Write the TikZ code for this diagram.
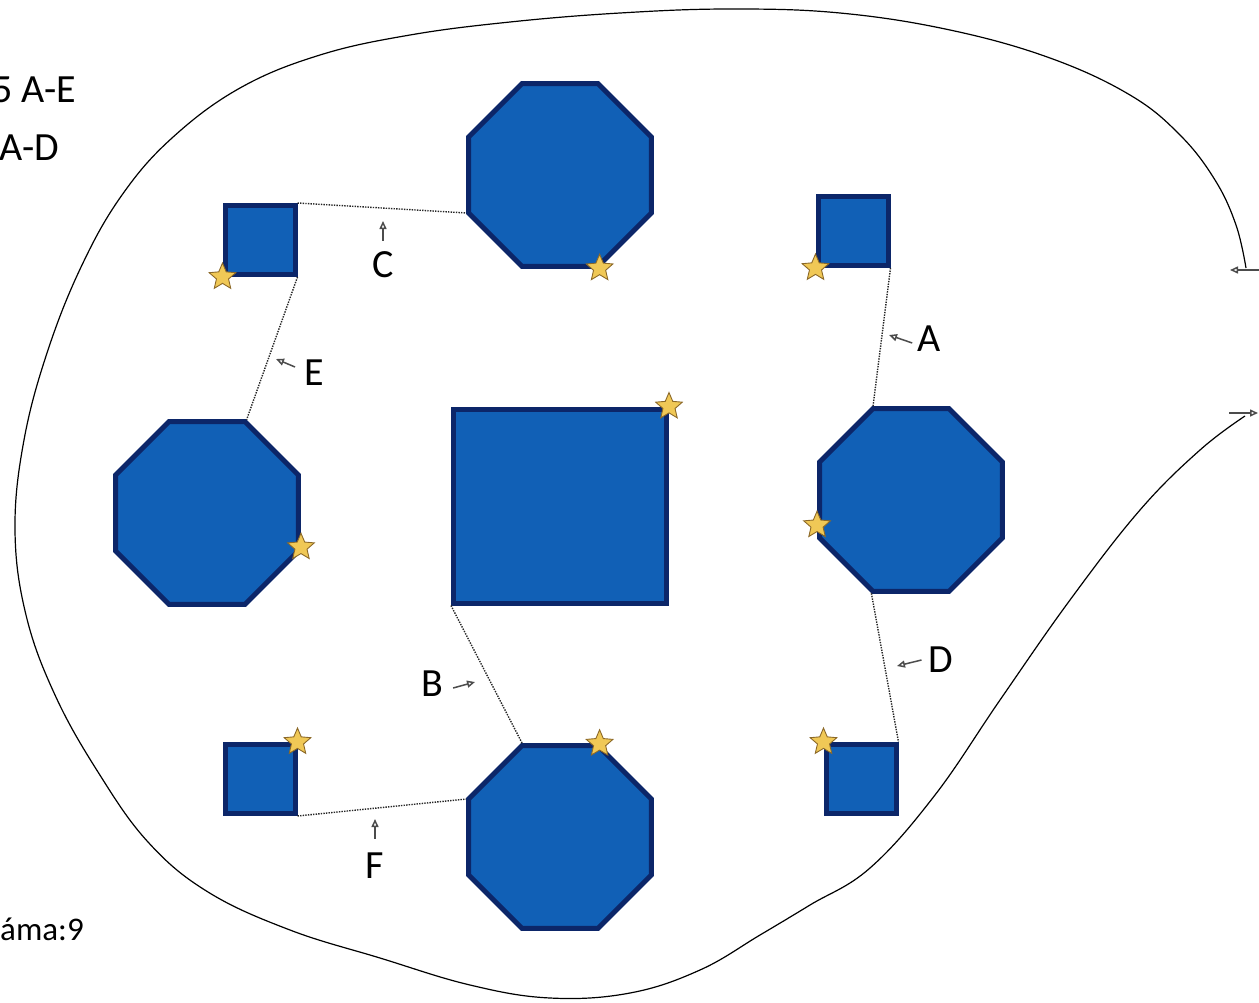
\documentclass[tikz,border=0pt]{standalone}
\usepackage{fontspec}
\setmainfont{Carlito}
\usetikzlibrary{arrows.meta,shapes.geometric}

\definecolor{tileblue}{RGB}{17,96,182}
\definecolor{tileedge}{RGB}{12,38,105}
\definecolor{stargold}{RGB}{240,200,86}
\definecolor{staredge}{RGB}{140,105,40}

\tikzset{
  octa/.style={regular polygon, regular polygon sides=8, minimum size=198pt, inner sep=0pt,
    fill=tileblue, draw=tileedge, line width=5pt},
  tile/.style={rectangle, minimum width=70pt, minimum height=69pt, inner sep=0pt,
    fill=tileblue, draw=tileedge, line width=5pt},
  badge/.style={star, star points=5, star point ratio=2.2, minimum size=28pt, inner sep=0pt,
    fill=stargold, draw=staredge, line width=0.9pt},
  gap/.style={dash pattern=on 1.4pt off 1.2pt, line width=1.4pt, black!85},
  pointer/.style={-{Triangle[open,length=8pt,width=7pt]}, black!70, line width=1.5pt},
  lbl/.style={font=\fontsize{40}{48}\selectfont, inner sep=0pt},
}

\begin{document}
\begin{tikzpicture}[x=1pt,y=-1pt]
  \useasboundingbox (0,0) rectangle (1259,1002);

  % outline
  \coordinate (outEnd) at (1246,268);
  \coordinate (inEnd) at (1245,416);
  \draw[line width=1.2pt] plot[smooth,tension=0.65] coordinates{
    (1246,268) (1236,225) (1215,180) (1180,135) (1130,95) (1050,58) (950,30) (840,13)
    (730,9) (620,13) (510,22) (410,35) (320,55) (240,88) (172,138) (122,195)
    (82,265) (48,350) (24,440) (15,530) (26,615) (55,695) (98,772) (148,842) (208,892)
    (290,930) (380,958) (470,985) (550,998) (630,993) (700,970) (760,935) (810,905)
    (870,868) (935,795) (1000,700) (1070,600) (1140,510) (1200,450) (1245,416)};
  \coordinate (outTip) at (1230,270);
  \coordinate (inTip) at (1258,413);
  \draw[pointer] (1259,270) -- (outTip);
  \draw[pointer] (1229,413) -- (inTip);

  % texts at the edge
  \node[lbl,anchor=west] (noteE) at (-8,90) {5 A-E};
  \node[lbl,anchor=west] (noteD) at (-1,148) {A-D};
  \node[font=\fontsize{33}{40}\selectfont,inner sep=0pt,anchor=base west] (noteN) at (0,940) {áma:9};

  % tiles
  \node[octa] (octTop) at (560,175) {};
  \node[octa] (octL) at (207,513) {};
  \node[octa] (octR) at (911,500) {};
  \node[octa] (octB) at (560,837) {};
  \node[tile] (sqTL) at (260,240) {};
  \node[tile] (sqTR) at (853,231) {};
  \node[tile] (sqBL) at (260,779) {};
  \node[tile] (sqBR) at (861,779) {};
  \node[rectangle, minimum width=213pt, minimum height=194pt, inner sep=0pt,
    fill=tileblue, draw=tileedge, line width=5pt] (sqMid) at (560,506) {};

  % gaps
  \draw[gap] (sqTL.north east) -- (octTop.202);
  \draw[gap] (sqTL.south east) -- (octL.67.5);
  \draw[gap] (sqTR.south east) -- (octR.112.5);
  \draw[gap] (octR.247.5) -- (sqBR.north east);
  \draw[gap] (sqMid.south west) -- (octB.112.5);
  \draw[gap] (sqBL.south east) -- (octB.158);

  % labels
  \node[lbl] (lblC) at (383,265) {C};
  \node[lbl] (lblE) at (314,373) {E};
  \node[lbl] (lblA) at (929,339) {A};
  \node[lbl] (lblD) at (941,660) {D};
  \node[lbl] (lblB) at (432,684) {B};
  \node[lbl] (lblF) at (375,866) {F};
  \coordinate (tipC) at (383,221);
  \coordinate (tipE) at (276,359);
  \coordinate (tipA) at (889,335);
  \coordinate (tipD) at (897,666);
  \coordinate (tipB) at (475,682);
  \coordinate (tipF) at (375,819);
  \draw[pointer] ([yshift=11pt]lblC.north) -- (tipC);
  \draw[pointer] ([shift={(-9pt,6pt)}]lblE.west) -- (tipE);
  \draw[pointer] ([shift={(-5pt,-4pt)}]lblA.west) -- (tipA);
  \draw[pointer] ([xshift=-7pt]lblD.west) -- (tipD);
  \draw[pointer] ([shift={(10pt,-4pt)}]lblB.east) -- (tipB);
  \draw[pointer] ([yshift=14pt]lblF.north) -- (tipF);

  % stars
  \node[badge] (stTL) at (sqTL.south west) {};
  \node[badge] (stTop) at (octTop.-67.5) {};
  \node[badge] (stTR) at (sqTR.south west) {};
  \node[badge] (stL) at (octL.-20) {};
  \node[badge] (stMid) at (sqMid.north east) {};
  \node[badge] (stR) at (octR.195) {};
  \node[badge] (stBL) at (sqBL.north east) {};
  \node[badge] (stB) at (octB.67.5) {};
  \node[badge] (stBR) at (sqBR.north west) {};
\end{tikzpicture}
\end{document}
